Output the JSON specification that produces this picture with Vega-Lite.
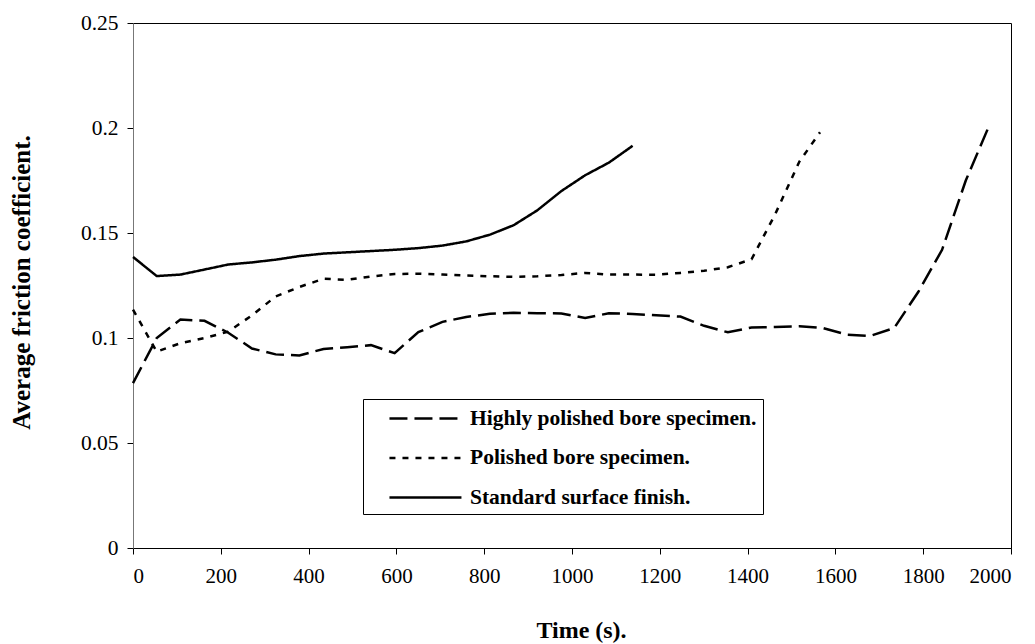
{
  "$schema": "https://vega.github.io/schema/vega-lite/v6.json",
  "autosize": {"type": "none"},
  "width": 878,
  "height": 525,
  "padding": {"left": 133, "top": 23, "right": 24, "bottom": 96},
  "background": "white",
  "config": {
    "view": {"stroke": "black", "strokeWidth": 1},
    "font": "Liberation Serif",
    "axis": {
      "grid": false,
      "domainColor": "black",
      "tickColor": "black",
      "tickSize": 6,
      "labelFont": "Liberation Serif",
      "labelFontSize": 21,
      "labelColor": "black",
      "titleFont": "Liberation Serif",
      "titleFontSize": 24,
      "titleFontWeight": "bold",
      "titleColor": "black"
    }
  },
  "data": {
    "values": [
      {"s": "Highly polished bore specimen.", "t": 0, "f": 0.0785},
      {"s": "Highly polished bore specimen.", "t": 54, "f": 0.1000},
      {"s": "Highly polished bore specimen.", "t": 108, "f": 0.1088},
      {"s": "Highly polished bore specimen.", "t": 163, "f": 0.1082},
      {"s": "Highly polished bore specimen.", "t": 217, "f": 0.1025},
      {"s": "Highly polished bore specimen.", "t": 271, "f": 0.0950},
      {"s": "Highly polished bore specimen.", "t": 325, "f": 0.0922},
      {"s": "Highly polished bore specimen.", "t": 379, "f": 0.0917},
      {"s": "Highly polished bore specimen.", "t": 434, "f": 0.0948},
      {"s": "Highly polished bore specimen.", "t": 488, "f": 0.0956},
      {"s": "Highly polished bore specimen.", "t": 542, "f": 0.0966},
      {"s": "Highly polished bore specimen.", "t": 596, "f": 0.0928},
      {"s": "Highly polished bore specimen.", "t": 650, "f": 0.1028},
      {"s": "Highly polished bore specimen.", "t": 705, "f": 0.1077},
      {"s": "Highly polished bore specimen.", "t": 759, "f": 0.1100},
      {"s": "Highly polished bore specimen.", "t": 813, "f": 0.1115},
      {"s": "Highly polished bore specimen.", "t": 867, "f": 0.1120},
      {"s": "Highly polished bore specimen.", "t": 921, "f": 0.1118},
      {"s": "Highly polished bore specimen.", "t": 976, "f": 0.1117},
      {"s": "Highly polished bore specimen.", "t": 1030, "f": 0.1095},
      {"s": "Highly polished bore specimen.", "t": 1084, "f": 0.1118},
      {"s": "Highly polished bore specimen.", "t": 1138, "f": 0.1114},
      {"s": "Highly polished bore specimen.", "t": 1192, "f": 0.1108},
      {"s": "Highly polished bore specimen.", "t": 1247, "f": 0.1102},
      {"s": "Highly polished bore specimen.", "t": 1301, "f": 0.1058},
      {"s": "Highly polished bore specimen.", "t": 1355, "f": 0.1027},
      {"s": "Highly polished bore specimen.", "t": 1409, "f": 0.1050},
      {"s": "Highly polished bore specimen.", "t": 1463, "f": 0.1052},
      {"s": "Highly polished bore specimen.", "t": 1518, "f": 0.1056},
      {"s": "Highly polished bore specimen.", "t": 1572, "f": 0.1047},
      {"s": "Highly polished bore specimen.", "t": 1626, "f": 0.1016},
      {"s": "Highly polished bore specimen.", "t": 1680, "f": 0.1010},
      {"s": "Highly polished bore specimen.", "t": 1734, "f": 0.1048},
      {"s": "Highly polished bore specimen.", "t": 1789, "f": 0.1220},
      {"s": "Highly polished bore specimen.", "t": 1843, "f": 0.1420},
      {"s": "Highly polished bore specimen.", "t": 1897, "f": 0.1750},
      {"s": "Highly polished bore specimen.", "t": 1950, "f": 0.2010},
      {"s": "Polished bore specimen.", "t": 0, "f": 0.1135},
      {"s": "Polished bore specimen.", "t": 54, "f": 0.0935},
      {"s": "Polished bore specimen.", "t": 108, "f": 0.0975},
      {"s": "Polished bore specimen.", "t": 163, "f": 0.1000},
      {"s": "Polished bore specimen.", "t": 217, "f": 0.1030},
      {"s": "Polished bore specimen.", "t": 271, "f": 0.1108},
      {"s": "Polished bore specimen.", "t": 325, "f": 0.1198},
      {"s": "Polished bore specimen.", "t": 379, "f": 0.1243},
      {"s": "Polished bore specimen.", "t": 434, "f": 0.1282},
      {"s": "Polished bore specimen.", "t": 488, "f": 0.1277},
      {"s": "Polished bore specimen.", "t": 542, "f": 0.1293},
      {"s": "Polished bore specimen.", "t": 596, "f": 0.1305},
      {"s": "Polished bore specimen.", "t": 650, "f": 0.1306},
      {"s": "Polished bore specimen.", "t": 705, "f": 0.1302},
      {"s": "Polished bore specimen.", "t": 759, "f": 0.1298},
      {"s": "Polished bore specimen.", "t": 813, "f": 0.1294},
      {"s": "Polished bore specimen.", "t": 867, "f": 0.1291},
      {"s": "Polished bore specimen.", "t": 921, "f": 0.1294},
      {"s": "Polished bore specimen.", "t": 976, "f": 0.1300},
      {"s": "Polished bore specimen.", "t": 1030, "f": 0.1310},
      {"s": "Polished bore specimen.", "t": 1084, "f": 0.1302},
      {"s": "Polished bore specimen.", "t": 1138, "f": 0.1302},
      {"s": "Polished bore specimen.", "t": 1192, "f": 0.1301},
      {"s": "Polished bore specimen.", "t": 1247, "f": 0.1310},
      {"s": "Polished bore specimen.", "t": 1301, "f": 0.1320},
      {"s": "Polished bore specimen.", "t": 1355, "f": 0.1337},
      {"s": "Polished bore specimen.", "t": 1409, "f": 0.1375},
      {"s": "Polished bore specimen.", "t": 1463, "f": 0.1590},
      {"s": "Polished bore specimen.", "t": 1518, "f": 0.1840},
      {"s": "Polished bore specimen.", "t": 1565, "f": 0.1980},
      {"s": "Standard surface finish.", "t": 0, "f": 0.1386},
      {"s": "Standard surface finish.", "t": 54, "f": 0.1295},
      {"s": "Standard surface finish.", "t": 108, "f": 0.1302},
      {"s": "Standard surface finish.", "t": 163, "f": 0.1326},
      {"s": "Standard surface finish.", "t": 217, "f": 0.1350},
      {"s": "Standard surface finish.", "t": 271, "f": 0.1360},
      {"s": "Standard surface finish.", "t": 325, "f": 0.1373},
      {"s": "Standard surface finish.", "t": 379, "f": 0.1390},
      {"s": "Standard surface finish.", "t": 434, "f": 0.1402},
      {"s": "Standard surface finish.", "t": 488, "f": 0.1408},
      {"s": "Standard surface finish.", "t": 542, "f": 0.1414},
      {"s": "Standard surface finish.", "t": 596, "f": 0.1420},
      {"s": "Standard surface finish.", "t": 650, "f": 0.1428},
      {"s": "Standard surface finish.", "t": 705, "f": 0.1440},
      {"s": "Standard surface finish.", "t": 759, "f": 0.1460},
      {"s": "Standard surface finish.", "t": 813, "f": 0.1492},
      {"s": "Standard surface finish.", "t": 867, "f": 0.1537},
      {"s": "Standard surface finish.", "t": 921, "f": 0.1608},
      {"s": "Standard surface finish.", "t": 976, "f": 0.1700},
      {"s": "Standard surface finish.", "t": 1030, "f": 0.1775},
      {"s": "Standard surface finish.", "t": 1084, "f": 0.1835},
      {"s": "Standard surface finish.", "t": 1138, "f": 0.1915}
    ]
  },
  "mark": {"type": "line", "color": "black", "strokeWidth": 2.5},
  "encoding": {
    "x": {
      "field": "t", "type": "quantitative",
      "scale": {"domain": [0, 2000], "nice": false},
      "axis": {
        "values": [0, 200, 400, 600, 800, 1000, 1200, 1400, 1600, 1800, 2000],
        "format": "d",
        "labelPadding": 11,
        "title": "Time (s).",
        "titleX": 448,
        "titleY": 89,
        "titleBaseline": "alphabetic",
        "titleAnchor": null
      }
    },
    "y": {
      "field": "f", "type": "quantitative",
      "scale": {"domain": [0, 0.25], "nice": false, "zero": true},
      "axis": {
        "values": [0, 0.05, 0.1, 0.15, 0.2, 0.25],
        "format": ".2~f",
        "labelPadding": 9,
        "labelFontSize": 21.5,
        "domainColor": "#777777",
        "title": "Average friction coefficient.",
        "titleFontSize": 25,
        "titleX": -104,
        "titleY": 259,
        "titleAngle": -90,
        "titleAlign": "center",
        "titleBaseline": "alphabetic",
        "titleAnchor": null
      }
    },
    "strokeDash": {
      "field": "s", "type": "nominal",
      "scale": {
        "domain": ["Highly polished bore specimen.", "Polished bore specimen.", "Standard surface finish."],
        "range": [[18, 7], [6, 7], [1, 0]]
      },
      "legend": {
        "title": null,
        "orient": "none",
        "legendX": 230,
        "legendY": 376,
        "strokeColor": "black",
        "fillColor": "white",
        "padding": 6,
        "symbolType": "M0.58,0H6.58",
        "symbolSize": 576,
        "symbolStrokeWidth": 2.5,
        "symbolStrokeColor": "black",
        "labelOffset": 74,
        "rowPadding": 15.5,
        "labelFont": "Liberation Serif",
        "labelFontSize": 21.5,
        "labelFontWeight": "bold",
        "labelColor": "black",
        "labelLimit": 400
      }
    }
  }
}
